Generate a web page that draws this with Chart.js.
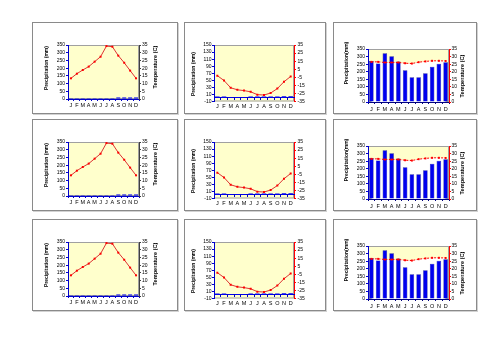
<!DOCTYPE html>
<html><head><meta charset="utf-8">
<script src="https://cdn.jsdelivr.net/npm/chart.js@4.4.1/dist/chart.umd.min.js"></script>
<style>
html,body{margin:0;padding:0;background:#fff;width:500px;height:353px;overflow:hidden}
.panel{position:absolute;border:1px solid #8a8a8a;box-shadow:1px 1px 0 #d2d2d2;background:#fff}
.panel canvas{position:absolute;left:0;top:0}
</style></head><body>
<script>
// ---------- data ----------
const months = ['J','F','M','A','M','J','J','A','S','O','N','D'];

const precipA = [1,1,1,1,1,1,1,1,10,10,10,10];
const tempA   = [13.4,16.4,18.8,21,24.2,27.4,34.3,33.9,28.1,23.5,18.4,13.4];
const precipTicksA = [0,50,100,150,200,250,300,350];
const tempTicksA   = [0,5,10,15,20,25,30,35];

const precipB = [4,4,3,3,3,4,4,4,4,4,5,5];
const tempB   = [-3,-9,-18,-20.5,-21.5,-23,-26.5,-27,-24.5,-19,-10.5,-4];
const precipTicksB = [-10,10,30,50,70,90,110,130,150];
const tempTicksB   = [-35,-25,-15,-5,5,15,25,35];

const precipC = [270,255,322,302,268,210,163,163,190,232,252,262];
const tempC   = [26.5,26.5,26.1,26.1,26.1,25.6,25.4,26.3,26.8,27.2,27.2,27.1];
const precipTicksC = [0,50,100,150,200,250,300,350];
const tempTicksC   = [0,5,10,15,20,25,30,35];

const precipTitleA = 'Precipitation (mm)', tempTitleA = 'Temperature (C)';
const precipTitleB = 'Precipitation (mm)';
const precipTitleC = 'Precipitation(mm)', tempTitleC = 'Temperature (C)';

// ---------- layout ----------
const colLeft = [32,184,333], colWidth = [146,142,144];
const rowTop = [22,119,219], rowHeight = 92;
const FONT = "'Liberation Sans', Arial, sans-serif";

const bgPlugin = {
  id:'areaBg',
  beforeDraw(chart, args, o){
    const {ctx, chartArea:a} = chart;
    ctx.save();
    ctx.fillStyle = o.color;
    ctx.fillRect(a.left, a.top, a.right-a.left, a.bottom-a.top);
    ctx.strokeStyle = o.border; ctx.lineWidth = 1;
    ctx.strokeRect(a.left+0.5, a.top+0.5, a.right-a.left-1, a.bottom-a.top-1);
    ctx.restore();
  }
};
const titlePlugin = {
  id:'axisTitles',
  afterDraw(chart, args, o){
    const ctx = chart.ctx;
    ctx.save();
    ctx.fillStyle = '#000'; ctx.textAlign = 'center'; ctx.textBaseline = 'middle';
    for (const t of o.items){
      ctx.save();
      ctx.font = 'bold ' + t.size + 'px ' + FONT;
      ctx.translate(t.x, t.y); ctx.rotate(-Math.PI/2);
      ctx.fillText(t.text, 0, 0);
      ctx.restore();
    }
    ctx.restore();
  }
};

function yScale(pos, ticksArr, width, color, pad){
  return {
    position: pos, min: ticksArr[0], max: ticksArr[ticksArr.length-1],
    afterBuildTicks: s => { s.ticks = ticksArr.map(v => ({value:v})); },
    afterFit: s => { s.width = width; },
    ticks: {font:{family:FONT,size:5,lineHeight:1}, color:'#000', padding:pad, autoSkip:false},
    grid: {drawOnChartArea:false, tickLength:2, color:color},
    border: {color:color, width:1}
  };
}

function build(row, col, cfg){
  const div = document.createElement('div');
  div.className = 'panel';
  const W = colWidth[col]-2, H = rowHeight-2;
  div.style.left = colLeft[col]+'px'; div.style.top = rowTop[row]+'px';
  div.style.width = W+'px'; div.style.height = H+'px';
  const cv = document.createElement('canvas');
  cv.width = W; cv.height = H; cv.style.width = W+'px'; cv.style.height = H+'px';
  div.appendChild(cv); document.body.appendChild(div);

  const scales = {
    x: {
      position:'bottom', offset:true,
      afterFit: s => { s.height = H - cfg.bottom; },
      ticks:{font:{family:FONT,size:5.5,lineHeight:1}, color:'#000', padding:cfg.xPad, autoSkip:false, maxRotation:0},
      grid:{drawOnChartArea:false, offset:true, drawTicks:cfg.xTicks, tickLength:2, color:cfg.xColor},
      border:{display:cfg.xBorder, color:cfg.xColor, width:1}
    },
    yP: yScale('left', cfg.pTicks, cfg.left, '#0000cc', cfg.lPad),
    yT: yScale('right', cfg.tTicks, W - cfg.right, cfg.rColor, cfg.rPad)
  };
  if (cfg.zeroAxis){
    scales.x0 = {
      type:'category', position:{yP:0}, offset:true,
      ticks:{display:false},
      grid:{drawOnChartArea:false, offset:true, tickLength:2, color:'#0000cc'},
      border:{color:'#0000cc', width:1}
    };
  }
  const datasets = [
    {type:'bar', data:cfg.precip, yAxisID:'yP', xAxisID:'x', order:2,
     backgroundColor:'#0000ee', borderColor:'#000080', borderWidth:cfg.barBorder,
     barPercentage:0.75, categoryPercentage:0.9},
    {type:'line', data:cfg.temp, yAxisID:'yT', xAxisID:'x', order:1,
     borderColor:cfg.lineColor, borderWidth:1, borderDash:cfg.dash,
     pointStyle:'rect', pointRadius:1.4, pointBackgroundColor:'#ff0000', pointBorderColor:'#ff0000', pointBorderWidth:0,
     fill: cfg.whiteFill ? 'origin' : false, backgroundColor:'#ffffff', tension:0}
  ];
  new Chart(cv, {
    data:{labels:months, datasets},
    options:{
      responsive:false, animation:false, devicePixelRatio:1,
      layout:{padding:{top:cfg.top, left:0, right:0, bottom:0}},
      scales,
      plugins:{
        legend:{display:false}, tooltip:{enabled:false},
        filler:{drawTime:'beforeDatasetsDraw'},
        areaBg:{color:'#ffffcc', border:'#a0a0a0'},
        axisTitles:{items:cfg.titles}
      }
    },
    plugins:[bgPlugin, titlePlugin]
  });
}

const cfgA = {precip:precipA, temp:tempA, pTicks:precipTicksA, tTicks:tempTicksA,
  left:35, right:106, top:22, bottom:76, xPad:1.3, xTicks:true, xBorder:true, xColor:'#0000cc',
  lPad:1, rPad:1, rColor:'#404040', lineColor:'#dd3333', dash:[], whiteFill:false, barBorder:0,
  zeroAxis:false,
  titles:[{text:precipTitleA, x:14, y:45, size:5},{text:tempTitleA, x:122, y:44, size:5.6}]};
const cfgB = {precip:precipB, temp:tempB, pTicks:precipTicksB, tTicks:tempTicksB,
  left:29, right:109, top:22, bottom:78.5, xPad:2.2, xTicks:false, xBorder:false, xColor:'#0000cc',
  lPad:0.5, rPad:1.5, rColor:'#ff0000', lineColor:'#dd3333', dash:[], whiteFill:false, barBorder:0,
  zeroAxis:true,
  titles:[{text:precipTitleB, x:9, y:51, size:5}]};
const cfgC = {precip:precipC, temp:tempC, pTicks:precipTicksC, tTicks:tempTicksC,
  left:34, right:115, top:26, bottom:79, xPad:2.3, xTicks:true, xBorder:true, xColor:'#000080',
  lPad:1, rPad:0.5, rColor:'#ff0000', lineColor:'#ff0000', dash:[2,1.5], whiteFill:true, barBorder:0.5,
  zeroAxis:false,
  titles:[{text:precipTitleC, x:13, y:40, size:5},{text:tempTitleC, x:128, y:53, size:5.6}]};

for (let r=0; r<3; r++){
  build(r,0,cfgA); build(r,1,cfgB); build(r,2,cfgC);
}
</script>
</body></html>
